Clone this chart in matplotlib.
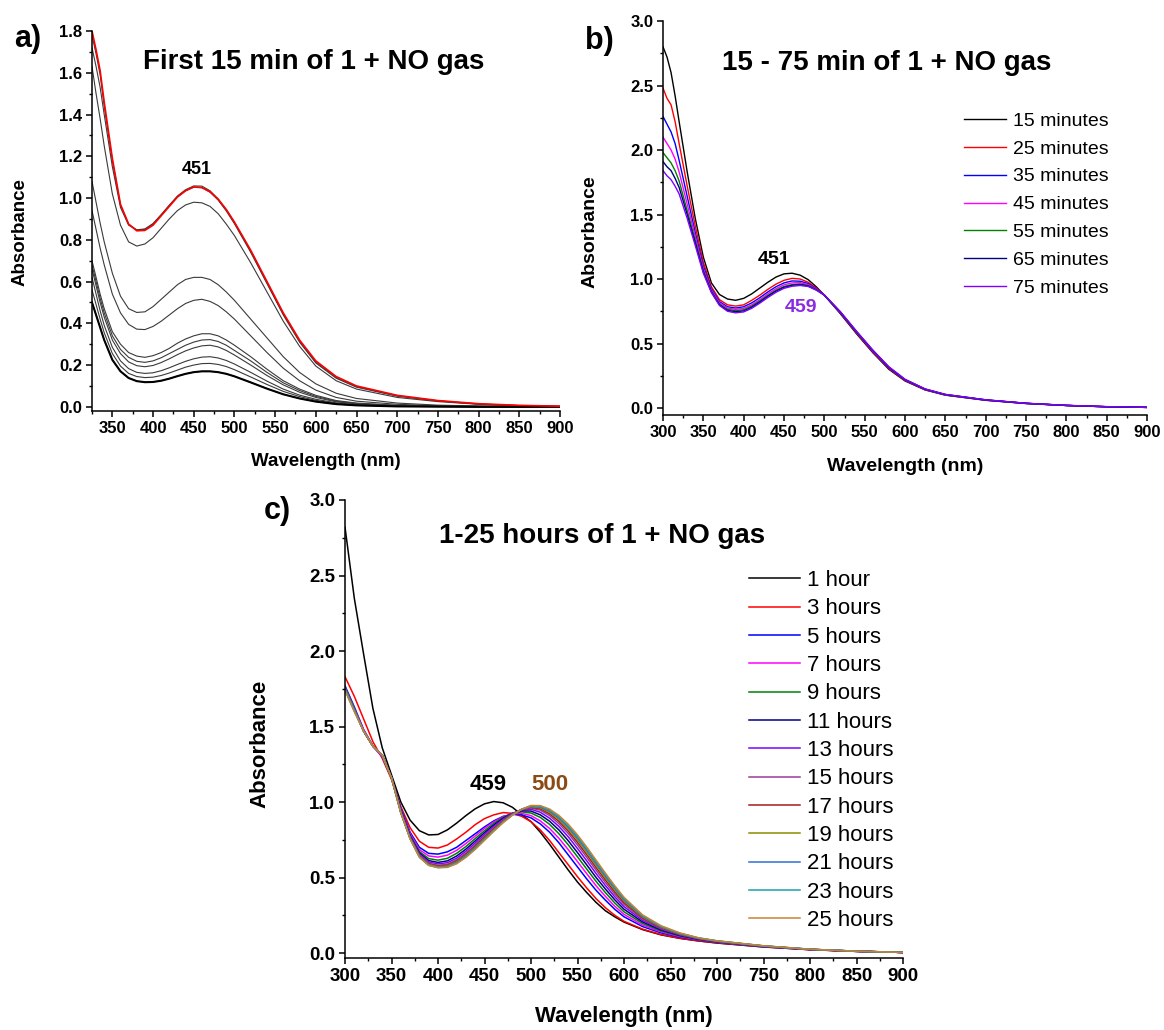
import numpy as np
import matplotlib.pyplot as plt
from matplotlib.ticker import MultipleLocator

plt.rcParams['font.family'] = ['Liberation Sans', 'DejaVu Sans']
plt.rcParams['font.weight'] = 'bold'
plt.rcParams['axes.labelweight'] = 'bold'

# ---------------- panel a: first 15 min ----------------
wl_a = [325, 330, 335, 340, 350, 360, 370, 380, 390, 400, 410, 420, 430, 440, 450, 460,
        470, 480, 490, 500, 520, 540, 560, 580, 600, 625, 650, 700, 750, 800, 850, 900]

a_red = [1.80, 1.71, 1.61, 1.46, 1.19, 0.97, 0.875, 0.843, 0.845, 0.87, 0.915, 0.96, 1.005, 1.035, 1.053, 1.05,
         1.03, 0.995, 0.945, 0.885, 0.75, 0.60, 0.45, 0.32, 0.22, 0.145, 0.10, 0.055, 0.03, 0.015, 0.007, 0.003]
a_k1 = [1.78, 1.69, 1.59, 1.44, 1.18, 0.965, 0.875, 0.846, 0.85, 0.875, 0.92, 0.966, 1.01, 1.04, 1.058, 1.057,
        1.035, 0.995, 0.943, 0.882, 0.745, 0.595, 0.445, 0.315, 0.215, 0.14, 0.097, 0.053, 0.029, 0.014, 0.006, 0.002]
a_k2 = [1.72, 1.63, 1.53, 1.40, 1.15, 0.955, 0.87, 0.848, 0.852, 0.878, 0.92, 0.964, 1.005, 1.035, 1.052, 1.05,
        1.028, 0.99, 0.938, 0.877, 0.74, 0.59, 0.44, 0.31, 0.21, 0.137, 0.094, 0.051, 0.028, 0.013, 0.006, 0.002]
a_k3 = [1.63, 1.50, 1.38, 1.25, 1.02, 0.87, 0.79, 0.77, 0.78, 0.81, 0.855, 0.90, 0.94, 0.967, 0.98, 0.977,
        0.96, 0.925, 0.875, 0.82, 0.69, 0.55, 0.41, 0.29, 0.195, 0.125, 0.085, 0.045, 0.025, 0.012, 0.005, 0.002]
a_k4 = [1.08, 0.98, 0.88, 0.79, 0.64, 0.53, 0.47, 0.452, 0.455, 0.48, 0.515, 0.55, 0.585, 0.61, 0.62, 0.62,
        0.61, 0.585, 0.55, 0.51, 0.42, 0.33, 0.24, 0.165, 0.11, 0.065, 0.04, 0.018, 0.008, 0.004, 0.002, 0.001]
a_k5 = [0.94, 0.85, 0.76, 0.68, 0.54, 0.45, 0.395, 0.372, 0.37, 0.385, 0.41, 0.44, 0.47, 0.495, 0.51, 0.515,
        0.505, 0.485, 0.455, 0.42, 0.34, 0.26, 0.185, 0.125, 0.08, 0.045, 0.027, 0.012, 0.005, 0.003, 0.001, 0.0]
a_k6 = [0.70, 0.62, 0.54, 0.47, 0.36, 0.30, 0.26, 0.243, 0.237, 0.245, 0.26, 0.28, 0.305, 0.325, 0.34, 0.35,
        0.35, 0.34, 0.32, 0.295, 0.24, 0.18, 0.125, 0.085, 0.055, 0.03, 0.018, 0.007, 0.003, 0.001, 0.0, 0.0]
a_k7 = [0.68, 0.60, 0.52, 0.45, 0.34, 0.275, 0.237, 0.218, 0.213, 0.22, 0.235, 0.255, 0.275, 0.295, 0.31, 0.32,
        0.322, 0.313, 0.295, 0.27, 0.22, 0.165, 0.115, 0.078, 0.05, 0.027, 0.016, 0.006, 0.003, 0.001, 0.0, 0.0]
a_k8 = [0.66, 0.58, 0.50, 0.43, 0.32, 0.255, 0.215, 0.197, 0.192, 0.198, 0.212, 0.23, 0.25, 0.268, 0.282, 0.292,
        0.295, 0.287, 0.27, 0.248, 0.20, 0.15, 0.105, 0.07, 0.045, 0.024, 0.014, 0.005, 0.002, 0.001, 0.0, 0.0]
a_k9 = [0.62, 0.54, 0.46, 0.39, 0.285, 0.22, 0.183, 0.165, 0.16, 0.163, 0.173, 0.187, 0.203, 0.218, 0.23, 0.238,
        0.24, 0.234, 0.222, 0.205, 0.165, 0.123, 0.085, 0.056, 0.036, 0.019, 0.011, 0.004, 0.002, 0.001, 0.0, 0.0]
a_k10 = [0.56, 0.49, 0.42, 0.355, 0.255, 0.195, 0.16, 0.145, 0.14, 0.142, 0.15, 0.162, 0.176, 0.19, 0.20, 0.207,
         0.208, 0.203, 0.193, 0.178, 0.143, 0.107, 0.074, 0.049, 0.031, 0.016, 0.009, 0.003, 0.001, 0.0, 0.0, 0.0]
a_k11 = [0.50, 0.44, 0.38, 0.32, 0.225, 0.17, 0.138, 0.123, 0.118, 0.119, 0.125, 0.135, 0.147, 0.158, 0.166, 0.17,
         0.17, 0.166, 0.158, 0.146, 0.117, 0.087, 0.06, 0.04, 0.025, 0.013, 0.007, 0.002, 0.001, 0.0, 0.0, 0.0]

# ---------------- panel b: 15 - 75 min ----------------
wl_b = [300, 305, 310, 315, 320, 330, 340, 350, 360, 370, 380, 390, 400, 410, 420, 430, 440, 450,
        460, 470, 480, 490, 500, 520, 540, 560, 580, 600, 625, 650, 700, 750, 800, 850, 900]
labels_b = ['15 minutes', '25 minutes', '35 minutes', '45 minutes', '55 minutes', '65 minutes', '75 minutes']
colors_b = ['#000000', '#FF0000', '#0000FF', '#FF00FF', '#008000', '#000080', '#8000FF']

b_15 = [2.80, 2.72, 2.60, 2.42, 2.22, 1.83, 1.47, 1.17, 0.97, 0.88, 0.845, 0.835, 0.85, 0.885, 0.93, 0.975, 1.015, 1.04,
        1.045, 1.03, 0.995, 0.94, 0.875, 0.73, 0.575, 0.43, 0.30, 0.21, 0.14, 0.10, 0.06, 0.035, 0.02, 0.01, 0.005]
b_25 = [2.48, 2.40, 2.35, 2.22, 2.05, 1.72, 1.41, 1.13, 0.94, 0.84, 0.80, 0.79, 0.80, 0.835, 0.875, 0.92, 0.96, 0.99,
        1.005, 1.0, 0.975, 0.93, 0.875, 0.735, 0.58, 0.435, 0.305, 0.213, 0.142, 0.101, 0.061, 0.036, 0.02, 0.01, 0.005]
b_35 = [2.26, 2.20, 2.14, 2.05, 1.92, 1.64, 1.36, 1.10, 0.925, 0.825, 0.785, 0.775, 0.785, 0.815, 0.855, 0.90, 0.94, 0.97,
        0.985, 0.983, 0.965, 0.925, 0.875, 0.738, 0.585, 0.44, 0.31, 0.216, 0.144, 0.102, 0.062, 0.036, 0.02, 0.01, 0.005]
b_45 = [2.10, 2.05, 2.00, 1.93, 1.83, 1.58, 1.33, 1.08, 0.915, 0.815, 0.775, 0.765, 0.773, 0.80, 0.84, 0.885, 0.925, 0.955,
        0.97, 0.972, 0.957, 0.922, 0.875, 0.74, 0.588, 0.443, 0.313, 0.218, 0.145, 0.103, 0.062, 0.036, 0.02, 0.01, 0.005]
b_55 = [1.98, 1.94, 1.90, 1.84, 1.76, 1.53, 1.30, 1.065, 0.905, 0.805, 0.765, 0.755, 0.762, 0.79, 0.83, 0.873, 0.913, 0.942,
        0.957, 0.962, 0.95, 0.918, 0.875, 0.742, 0.59, 0.446, 0.315, 0.22, 0.146, 0.104, 0.063, 0.036, 0.02, 0.01, 0.005]
b_65 = [1.91, 1.87, 1.84, 1.78, 1.71, 1.50, 1.28, 1.055, 0.90, 0.80, 0.757, 0.746, 0.753, 0.782, 0.822, 0.866, 0.906, 0.936,
        0.951, 0.957, 0.946, 0.916, 0.876, 0.744, 0.592, 0.448, 0.317, 0.221, 0.147, 0.105, 0.063, 0.037, 0.02, 0.01, 0.005]
b_75 = [1.84, 1.80, 1.77, 1.72, 1.66, 1.47, 1.26, 1.045, 0.895, 0.795, 0.75, 0.738, 0.745, 0.773, 0.813, 0.857, 0.897, 0.928,
        0.944, 0.95, 0.942, 0.914, 0.877, 0.746, 0.595, 0.45, 0.32, 0.223, 0.148, 0.106, 0.064, 0.037, 0.021, 0.011, 0.005]

# ---------------- panel c: 1 - 25 hours ----------------
wl_c = [300, 310, 320, 330, 340, 350, 360, 370, 380, 390, 400, 410, 420, 430, 440, 450, 460, 470, 480, 490,
        500, 510, 520, 530, 540, 550, 560, 570, 580, 590, 600, 620, 640, 660, 680, 700, 750, 800, 850, 900]
labels_c = ['1 hour', '3 hours', '5 hours', '7 hours', '9 hours', '11 hours', '13 hours',
            '15 hours', '17 hours', '19 hours', '21 hours', '23 hours', '25 hours']
colors_c = ['#000000', '#FF0000', '#0000FF', '#FF00FF', '#008000', '#000080', '#8000FF',
            '#9B3C9B', '#A01E1E', '#8C8C00', '#2F6FD6', '#1AA3A3', '#C88234']

c_01 = [2.82, 2.35, 1.98, 1.62, 1.36, 1.18, 1.00, 0.88, 0.81, 0.782, 0.785, 0.815, 0.86, 0.91, 0.955, 0.988, 1.003, 0.995, 0.965, 0.915,
        0.87, 0.80, 0.72, 0.635, 0.55, 0.47, 0.40, 0.335, 0.28, 0.24, 0.205, 0.155, 0.12, 0.097, 0.08, 0.066, 0.04, 0.022, 0.011, 0.004]
c_03 = [1.83, 1.70, 1.55, 1.40, 1.29, 1.15, 0.97, 0.83, 0.74, 0.70, 0.695, 0.715, 0.755, 0.80, 0.85, 0.89, 0.915, 0.93, 0.925, 0.905,
        0.87, 0.815, 0.745, 0.665, 0.585, 0.505, 0.43, 0.36, 0.30, 0.25, 0.21, 0.158, 0.122, 0.098, 0.081, 0.067, 0.041, 0.022, 0.011, 0.004]
c_05 = [1.77, 1.63, 1.48, 1.37, 1.30, 1.16, 0.96, 0.80, 0.70, 0.66, 0.655, 0.67, 0.70, 0.745, 0.79, 0.835, 0.875, 0.905, 0.918, 0.915,
        0.895, 0.855, 0.80, 0.73, 0.65, 0.57, 0.49, 0.415, 0.35, 0.29, 0.24, 0.175, 0.133, 0.105, 0.086, 0.07, 0.042, 0.023, 0.011, 0.004]
c_07 = [1.76, 1.62, 1.48, 1.37, 1.30, 1.16, 0.955, 0.79, 0.685, 0.643, 0.635, 0.648, 0.68, 0.725, 0.775, 0.825, 0.868, 0.903, 0.922, 0.925,
        0.91, 0.875, 0.825, 0.76, 0.685, 0.605, 0.525, 0.445, 0.375, 0.31, 0.256, 0.185, 0.14, 0.109, 0.088, 0.072, 0.043, 0.023, 0.011, 0.004]
c_09 = [1.76, 1.62, 1.47, 1.37, 1.31, 1.16, 0.95, 0.78, 0.672, 0.625, 0.615, 0.627, 0.66, 0.705, 0.758, 0.81, 0.858, 0.898, 0.924, 0.935,
        0.927, 0.898, 0.852, 0.79, 0.717, 0.637, 0.555, 0.474, 0.40, 0.332, 0.273, 0.196, 0.146, 0.113, 0.09, 0.073, 0.044, 0.024, 0.011, 0.004]
c_11 = [1.75, 1.61, 1.47, 1.37, 1.31, 1.16, 0.945, 0.775, 0.663, 0.612, 0.60, 0.61, 0.642, 0.688, 0.742, 0.797, 0.848, 0.892, 0.925, 0.942,
        0.94, 0.915, 0.873, 0.815, 0.744, 0.665, 0.583, 0.50, 0.424, 0.353, 0.29, 0.206, 0.152, 0.116, 0.092, 0.075, 0.045, 0.024, 0.012, 0.004]
c_13 = [1.75, 1.61, 1.47, 1.37, 1.31, 1.16, 0.94, 0.77, 0.655, 0.603, 0.59, 0.598, 0.628, 0.674, 0.728, 0.785, 0.838, 0.886, 0.924, 0.948,
        0.952, 0.932, 0.893, 0.838, 0.77, 0.692, 0.61, 0.526, 0.447, 0.373, 0.307, 0.216, 0.158, 0.12, 0.094, 0.076, 0.045, 0.024, 0.012, 0.004]
c_15 = [1.75, 1.61, 1.47, 1.37, 1.31, 1.16, 0.935, 0.765, 0.648, 0.595, 0.581, 0.588, 0.617, 0.662, 0.716, 0.774, 0.829, 0.879, 0.921, 0.95,
        0.96, 0.946, 0.91, 0.857, 0.792, 0.715, 0.633, 0.548, 0.467, 0.39, 0.322, 0.225, 0.163, 0.123, 0.096, 0.077, 0.046, 0.024, 0.012, 0.004]
c_17 = [1.75, 1.61, 1.47, 1.37, 1.31, 1.16, 0.93, 0.762, 0.643, 0.59, 0.575, 0.581, 0.609, 0.653, 0.707, 0.766, 0.822, 0.874, 0.919, 0.951,
        0.965, 0.955, 0.922, 0.872, 0.808, 0.733, 0.651, 0.566, 0.484, 0.405, 0.334, 0.232, 0.167, 0.125, 0.097, 0.078, 0.046, 0.024, 0.012, 0.004]
c_19 = [1.75, 1.61, 1.47, 1.37, 1.31, 1.16, 0.93, 0.76, 0.64, 0.586, 0.571, 0.576, 0.603, 0.647, 0.70, 0.759, 0.816, 0.87, 0.917, 0.952,
        0.969, 0.962, 0.932, 0.884, 0.822, 0.748, 0.666, 0.581, 0.498, 0.418, 0.345, 0.238, 0.171, 0.127, 0.098, 0.079, 0.047, 0.025, 0.012, 0.004]
c_21 = [1.75, 1.61, 1.47, 1.37, 1.31, 1.16, 0.93, 0.758, 0.637, 0.583, 0.568, 0.572, 0.598, 0.642, 0.695, 0.754, 0.812, 0.867, 0.915, 0.952,
        0.972, 0.967, 0.94, 0.894, 0.834, 0.761, 0.68, 0.594, 0.51, 0.429, 0.354, 0.243, 0.174, 0.129, 0.099, 0.08, 0.047, 0.025, 0.012, 0.004]
c_23 = [1.74, 1.60, 1.47, 1.37, 1.31, 1.16, 0.93, 0.757, 0.635, 0.581, 0.566, 0.569, 0.594, 0.637, 0.69, 0.75, 0.809, 0.865, 0.914, 0.952,
        0.975, 0.972, 0.947, 0.903, 0.844, 0.772, 0.691, 0.605, 0.52, 0.438, 0.362, 0.248, 0.177, 0.131, 0.10, 0.08, 0.047, 0.025, 0.012, 0.004]
c_25 = [1.74, 1.60, 1.47, 1.37, 1.31, 1.16, 0.93, 0.756, 0.634, 0.58, 0.565, 0.567, 0.591, 0.633, 0.686, 0.746, 0.806, 0.863, 0.913, 0.952,
        0.977, 0.976, 0.953, 0.911, 0.853, 0.782, 0.701, 0.615, 0.529, 0.446, 0.369, 0.252, 0.18, 0.133, 0.101, 0.081, 0.048, 0.025, 0.012, 0.004]

W, H = 1164, 1030
fig = plt.figure(figsize=(W / 100, H / 100), dpi=100)


def add_axes_px(left, top, right, bottom):
    return fig.add_axes([left / W, 1 - bottom / H, (right - left) / W, (bottom - top) / H])


def style(ax, tick_size):
    ax.spines['top'].set_visible(False)
    ax.spines['right'].set_visible(False)
    for s in ['left', 'bottom']:
        ax.spines[s].set_linewidth(1.1)
    ax.tick_params(which='major', direction='out', length=4, width=1.1, labelsize=tick_size, pad=3)
    ax.tick_params(which='minor', direction='out', length=2.3, width=1.0)
    ax.xaxis.set_major_locator(MultipleLocator(50))
    ax.xaxis.set_minor_locator(MultipleLocator(25))
    ax.yaxis.set_major_formatter(lambda v, p: f'{v:.1f}')


def fig_text(x, y, s, **kw):
    fig.text(x / W, 1 - y / H, s, ha='center', va='center', **kw)


# ---- panel a
ax_a = add_axes_px(92, 31, 560, 411)
for curve in [a_k11, a_k10, a_k9, a_k8, a_k7, a_k6, a_k5, a_k4, a_k3, a_k2, a_k1]:
    ax_a.plot(wl_a, curve, color='#3a3a3a', lw=0.8)
ax_a.plot(wl_a, a_k11, color='black', lw=1.5)
ax_a.plot(wl_a, a_red, color='#FF0000', lw=1.2)
style(ax_a, 12)
ax_a.set_xlim(325, 900)
ax_a.set_ylim(-0.02, 1.8)
ax_a.set_xticks(np.arange(350, 901, 50))
ax_a.yaxis.set_major_locator(MultipleLocator(0.2))
ax_a.yaxis.set_minor_locator(MultipleLocator(0.1))
ax_a.set_xlabel('Wavelength (nm)', fontsize=13.5)
ax_a.set_ylabel('Absorbance', fontsize=13.5)
ax_a.xaxis.set_label_coords(0.5, -0.11)
ax_a.yaxis.set_label_coords(-0.135, 0.47)

# ---- panel b
ax_b = add_axes_px(663, 21, 1147, 415)
for curve, col, lab in zip([b_15, b_25, b_35, b_45, b_55, b_65, b_75], colors_b, labels_b):
    ax_b.plot(wl_b, curve, color=col, lw=1.0, label=lab)
style(ax_b, 12)
ax_b.set_xlim(300, 900)
ax_b.set_ylim(-0.054, 3.0)
ax_b.yaxis.set_major_locator(MultipleLocator(0.5))
ax_b.yaxis.set_minor_locator(MultipleLocator(0.25))
ax_b.set_xlabel('Wavelength (nm)', fontsize=14)
ax_b.set_ylabel('Absorbance', fontsize=14)
ax_b.xaxis.set_label_coords(0.5, -0.109)
ax_b.yaxis.set_label_coords(-0.134, 0.465)
ax_b.legend(loc='upper left', bbox_to_anchor=(964 / W, 1 - 112 / H), bbox_transform=fig.transFigure,
            frameon=False, borderpad=0, borderaxespad=0, handlelength=2.15, handletextpad=0.35,
            labelspacing=0.53, prop={'size': 14, 'weight': 'normal'})

# ---- panel c
ax_c = add_axes_px(345, 500, 903, 958)
for curve, col, lab in zip([c_01, c_03, c_05, c_07, c_09, c_11, c_13, c_15, c_17, c_19, c_21, c_23, c_25],
                           colors_c, labels_c):
    ax_c.plot(wl_c, curve, color=col, lw=1.1, label=lab)
style(ax_c, 13.5)
ax_c.set_xlim(300, 900)
ax_c.set_ylim(-0.033, 3.0)
ax_c.yaxis.set_major_locator(MultipleLocator(0.5))
ax_c.yaxis.set_minor_locator(MultipleLocator(0.25))
ax_c.set_xlabel('Wavelength (nm)', fontsize=16)
ax_c.set_ylabel('Absorbance', fontsize=16)
ax_c.xaxis.set_label_coords(0.5, -0.105)
ax_c.yaxis.set_label_coords(-0.134, 0.467)
ax_c.legend(loc='upper left', bbox_to_anchor=(749 / W, 1 - 570 / H), bbox_transform=fig.transFigure,
            frameon=False, borderpad=0, borderaxespad=0, handlelength=2.3, handletextpad=0.3,
            labelspacing=0.33, prop={'size': 16, 'weight': 'normal'})

# ---- titles, panel letters, peak labels
fig_text(314, 62, 'First 15 min of 1 + NO gas', fontsize=20)
fig_text(887, 63, '15 - 75 min of 1 + NO gas', fontsize=20)
fig_text(602, 536, '1-25 hours of 1 + NO gas', fontsize=20)
fig_text(28, 39, 'a)', fontsize=22)
fig_text(599, 41, 'b)', fontsize=22)
fig_text(277, 511, 'c)', fontsize=22)
fig_text(197, 169, '451', fontsize=13)
fig_text(774, 260, '451', fontsize=14)
fig_text(801, 308, '459', fontsize=14, color='#8A2BE2')
fig_text(488, 785, '459', fontsize=16)
fig_text(550, 785, '500', fontsize=16, color='#8B4A14')

fig.savefig('out.png', dpi=100)
